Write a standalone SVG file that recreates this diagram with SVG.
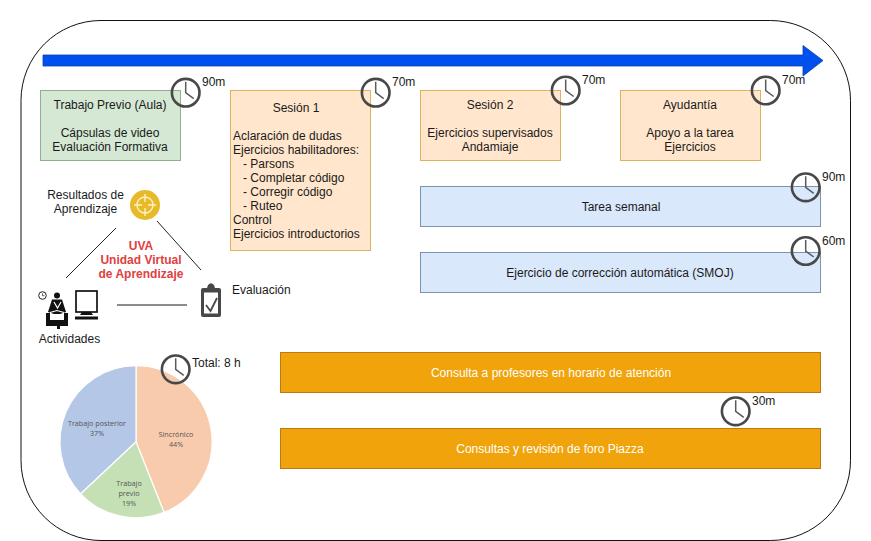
<svg xmlns="http://www.w3.org/2000/svg" xmlns:xlink="http://www.w3.org/1999/xlink" width="871" height="541" viewBox="0 0 871 541">
<style>
text{font-family:"Liberation Sans",Arial,sans-serif;font-size:12px;fill:#1a1a1a}
.c{text-anchor:middle}
.g{fill:#d5e8d4;stroke:#8fb08b}
.o{fill:#ffe6cc;stroke:#d9b45c}
.b{fill:#dae8fc;stroke:#7b93ad}
.y{fill:#f0a30a;stroke:#bd7a10}
.w{fill:#fff;font-size:12px}
.r{fill:#e04040;font-weight:bold;font-size:12px}
.p{font-family:"Open Sans","Noto Sans",sans-serif;font-size:7.2px;fill:#555;text-anchor:middle}
.cl{fill:none;stroke:#484848;stroke-width:2.6}
.clh{fill:none;stroke:#5a5a5a;stroke-width:1.5}
</style>
<defs>
<g id="clock"><circle class="cl" r="13.8"/><path class="clh" d="M0,-11V0L8,6"/></g>
</defs>
<rect width="871" height="541" fill="#fff"/>
<rect id="frame" x="21" y="20.5" width="829.5" height="520" rx="80" ry="80" fill="#fff" stroke="#111" stroke-width="1"/>
<g id="connectors" fill="none">
<path d="M43,55H803V45.5L823,60.5L803,76V66H43Z" fill="#0050ef" stroke="#0a3fa8" stroke-width="0.8"/>
<path d="M116,228L66,278" stroke="#222" stroke-width="1"/>
<path d="M157,221L201,270" stroke="#222" stroke-width="1"/>
<path d="M117,305H187" stroke="#666" stroke-width="1.4"/>
</g>
<g id="n-previo"><rect class="g" x="40.5" y="90.5" width="140" height="70"/>
<text class="c" x="110" y="109">Trabajo Previo (Aula)</text>
<text class="c" x="110" y="137">Cápsulas de video</text>
<text class="c" x="110" y="151">Evaluación Formativa</text></g>
<g id="n-sesion1"><rect class="o" x="230.5" y="90.5" width="140" height="160"/>
<text class="c" x="296" y="112">Sesión 1</text>
<text x="233" y="140">Aclaración de dudas</text>
<text x="233" y="154">Ejercicios habilitadores:</text>
<text x="243" y="168">- Parsons</text>
<text x="243" y="182">- Completar código</text>
<text x="243" y="196">- Corregir código</text>
<text x="243" y="210">- Ruteo</text>
<text x="233" y="224">Control</text>
<text x="233" y="238">Ejercicios introductorios</text></g>
<g id="n-sesion2"><rect class="o" x="420.5" y="90.5" width="140" height="70"/>
<text class="c" x="490" y="109">Sesión 2</text>
<text class="c" x="490" y="137">Ejercicios supervisados</text>
<text class="c" x="490" y="151">Andamiaje</text></g>
<g id="n-ayudantia"><rect class="o" x="620.5" y="90.5" width="140" height="70"/>
<text class="c" x="690" y="109">Ayudantía</text>
<text class="c" x="690" y="137">Apoyo a la tarea</text>
<text class="c" x="690" y="151">Ejercicios</text></g>
<g id="n-tarea"><rect class="b" x="420.5" y="186.5" width="400" height="40"/>
<text class="c" x="621" y="211">Tarea semanal</text></g>
<g id="n-smoj"><rect class="b" x="420.5" y="252.5" width="400" height="40"/>
<text class="c" x="620" y="277">Ejercicio de corrección automática (SMOJ)</text></g>
<g id="n-consulta"><rect class="y" x="280.5" y="352.5" width="540" height="40"/>
<text class="c w" x="551" y="377">Consulta a profesores en horario de atención</text></g>
<g id="n-foro"><rect class="y" x="280.5" y="428.5" width="540" height="40"/>
<text class="c w" x="550" y="453">Consultas y revisión de foro Piazza</text></g>
<g id="clocks">
<use xlink:href="#clock" href="#clock" x="185.7" y="92.7"/><text x="202" y="86">90m</text>
<use xlink:href="#clock" href="#clock" x="375.7" y="92.7"/><text x="392" y="86">70m</text>
<use xlink:href="#clock" href="#clock" x="565.7" y="90.5"/><text x="582" y="84">70m</text>
<use xlink:href="#clock" href="#clock" x="765.7" y="90.5"/><text x="782" y="84">70m</text>
<use xlink:href="#clock" href="#clock" x="805.7" y="187.3"/><text x="822" y="181">90m</text>
<use xlink:href="#clock" href="#clock" x="805.7" y="251"/><text x="822" y="245">60m</text>
<use xlink:href="#clock" href="#clock" x="735.7" y="411.3"/><text x="752" y="405">30m</text>
</g>
<g id="n-resultados">
<text class="c" x="85.5" y="199">Resultados de</text>
<text class="c" x="85.5" y="213">Aprendizaje</text>
<circle cx="145" cy="205" r="15" fill="#e8ba2a"/>
<circle cx="145" cy="205" r="8" fill="none" stroke="#fff3c4" stroke-width="1.4"/>
<path d="M145,194V202M145,208V216M134,205H142M148,205H156" stroke="#fff3c4" stroke-width="1.4" fill="none"/>
</g>
<g id="n-uva">
<text class="c r" x="141" y="250">UVA</text>
<text class="c r" x="141" y="264">Unidad Virtual</text>
<text class="c r" x="141" y="278">de Aprendizaje</text>
</g>
<g id="n-actividades">
<circle cx="42.5" cy="295.5" r="3.8" fill="#fff" stroke="#222" stroke-width="1"/>
<path d="M42.5,293.3V295.7H44.5" fill="none" stroke="#222" stroke-width="0.7"/>
<circle cx="57" cy="295.5" r="3" fill="#111"/>
<path d="M52,299.5H62L66,312L60,314H54L48,312Z" fill="#111"/>
<path d="M54,302L57.5,308L61,302M50,312.5L57,310.5L64,312.5" fill="none" stroke="#fff" stroke-width="1.2"/>
<path d="M46,313H50V320H64V313H68V326H60V329H57V326H46Z" fill="#111"/>
<rect x="76" y="291" width="21" height="21" fill="#fff" stroke="#111" stroke-width="1.7"/>
<path d="M82,312H91L93,315H80Z" fill="#111"/>
<rect x="75" y="316.5" width="23" height="3" fill="#111"/>
<text class="c" x="69.5" y="343">Actividades</text>
</g>
<g id="n-evaluacion">
<path d="M203,288H207L208,285Q211,281.5 214,285L215,288H219Q221,288 221,290V315Q221,317 219,317H203Q201,317 201,315V290Q201,288 203,288Z" fill="#484848"/>
<rect x="204" y="292.5" width="14" height="21" fill="#fff"/>
<path d="M206,305L210.5,311L217,298" fill="none" stroke="#484848" stroke-width="1.8"/>
<text x="232" y="294">Evaluación</text>
</g>
<g id="n-pie" stroke="#fff" stroke-width="1.2">
<path d="M136,441.7V365.7A76,76 0 0 1 164,512.4Z" fill="#f8cbad"/>
<path d="M136,441.7L164,512.4A76,76 0 0 1 80.6,493.8Z" fill="#c5e0b4"/>
<path d="M136,441.7L80.6,493.8A76,76 0 0 1 136,365.7Z" fill="#b4c7e7"/>
</g>
<g id="pie-labels">
<text class="p" x="176" y="437">Sincrónico</text>
<text class="p" x="176" y="447">44%</text>
<text class="p" x="129" y="486">Trabajo</text>
<text class="p" x="129" y="496">previo</text>
<text class="p" x="129" y="506">19%</text>
<text class="p" x="97" y="426">Trabajo posterior</text>
<text class="p" x="97" y="436">37%</text>
</g>
<g id="n-total">
<use xlink:href="#clock" href="#clock" x="175.7" y="369.3"/>
<text x="192" y="367">Total: 8 h</text>
</g>
</svg>
